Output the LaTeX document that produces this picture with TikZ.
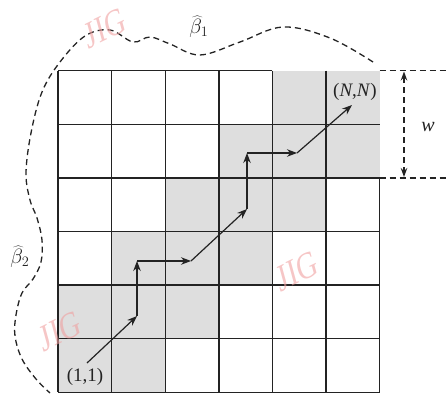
\documentclass[tikz,border=0pt]{standalone}
\usepackage{fontspec}
\setmainfont{Liberation Serif}
\usetikzlibrary{arrows.meta}
\definecolor{wmpink}{RGB}{240,160,160}
\definecolor{cellgray}{RGB}{222,222,222}
\definecolor{ink}{RGB}{35,35,35}
\begin{document}
\begin{tikzpicture}[x=1pt,y=-1pt,
  gridline/.style={line width=1.4pt, draw=ink},
  cellfill/.style={fill=cellgray},
  patharrow/.style={line width=1.2pt, draw=ink, -{Stealth[length=10pt,width=7.5pt]}},
  dimline/.style={line width=1.2pt, draw=ink, dash pattern=on 6pt off 4pt},
  boundary/.style={line width=1.3pt, draw=ink, dash pattern=on 6pt off 4pt},
  lbl/.style={inner sep=0pt, text=ink, font=\fontsize{19}{19}\selectfont},
  wm/.style={inner sep=0pt, text=wmpink, opacity=0.6, font=\fontsize{38}{38}\selectfont, xscale=0.75, rotate=20}
]
\useasboundingbox (0,0) rectangle (447,396);
% shaded cells
\foreach \c/\r in {5/1,6/1,4/2,5/2,6/2,3/3,4/3,5/3,2/4,3/4,4/4,1/5,2/5,3/5,1/6,2/6}
  \fill[cellfill] ({58+53.6*(\c-1)},{70.7+53.6*(\r-1)}) rectangle +(53.6,53.6);
% grid
\draw[gridline] (58,70.7) -- (272.4,70.7);
\foreach \j in {1,...,6}
  \draw[gridline] (58,{70.7+53.6*\j}) -- (379.6,{70.7+53.6*\j});
\foreach \i in {0,...,5}
  \draw[gridline] ({58+53.6*\i},70.7) -- ({58+53.6*\i},392.3);
\draw[gridline] (379.6,177.9) -- (379.6,392.3);
% width dimension
\coordinate (dt0) at (379.6,70.7);
\coordinate (dt1) at (447,70.7);
\coordinate (db0) at (379.6,177.9);
\coordinate (db1) at (447,177.9);
\coordinate (wtop) at (404,71.5);
\coordinate (wbot) at (404,177);
\draw[dimline] (dt0) -- (dt1);
\draw[dimline] (db0) -- (db1);
\draw[dimline, {Stealth[length=9pt,width=6.5pt]}-{Stealth[length=9pt,width=6.5pt]}] (wtop) -- (wbot);
\node[lbl, font=\fontsize{20}{20}\selectfont\itshape] (w) at (428,127) {w};
% boundary curve
\draw[boundary] plot[smooth, tension=0.6] coordinates {
  (373,62) (330,38) (283,27) (240,42) (200,55) (170,44) (150,37) (133,42) (110,30) (85,36)
  (60,62) (42,92) (31,133) (26,173) (30,200) (37,218) (42,240) (41,262) (33,279) (22,293)
  (16,315) (15,336) (22,359) (36,379) (50,393)};
\node[lbl, font=\fontsize{22}{22}\selectfont] (b1) at (199,27) {$\widehat{\beta}_1$};
\node[lbl, font=\fontsize{22}{22}\selectfont] (b2) at (20,257) {$\widehat{\beta}_2$};
% path
\coordinate (p0) at (87,363);
\coordinate (p1) at (137,316);
\coordinate (p2) at (137,261);
\coordinate (p3) at (191,261);
\coordinate (p4) at (247,209);
\coordinate (p5) at (247,153);
\coordinate (p6) at (297,153);
\coordinate (p7) at (352,105);
\draw[patharrow] (p0) -- (p1);
\draw[patharrow] (p1) -- (p2);
\draw[patharrow] (p2) -- (p3);
\draw[patharrow] (p3) -- (p4);
\draw[patharrow] (p4) -- (p5);
\draw[patharrow] (p5) -- (p6);
\draw[patharrow] (p6) -- (p7);
\node[lbl] (start) at (85,377) {(1,1)};
\node[lbl] (end) at (355,92) {(\textit{N},\textit{N})};
% watermarks
\node[wm] (wm1) at (105,28) {JIG};
\node[wm] (wm2) at (60,331) {JIG};
\node[wm] (wm3) at (297,271) {JIG};
\end{tikzpicture}
\end{document}
